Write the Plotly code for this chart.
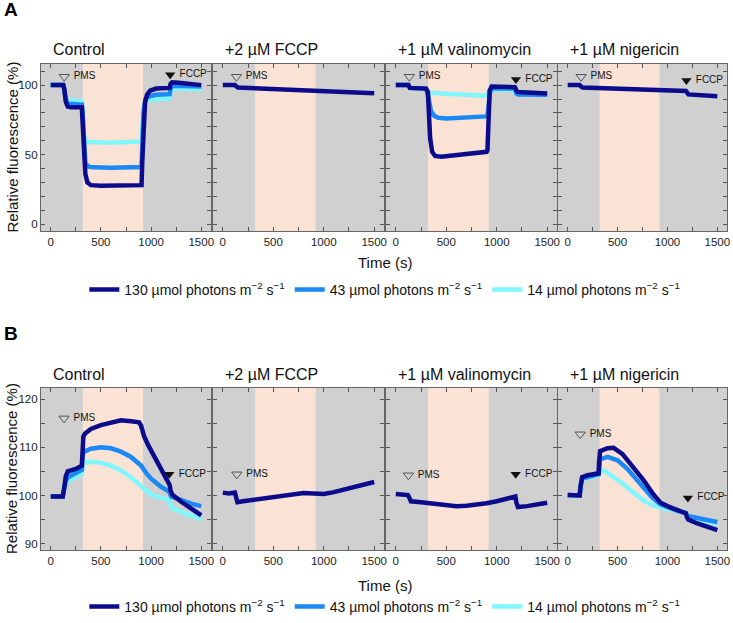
import plotly.graph_objects as go

# ---------------- DATA ----------------
series_names = ["130 µmol photons m<sup>−2</sup> s<sup>−1</sup>",
                "43 µmol photons m<sup>−2</sup> s<sup>−1</sup>",
                "14 µmol photons m<sup>−2</sup> s<sup>−1</sup>"]
panel_titles = ["Control", "+2 µM FCCP", "+1 µM valinomycin", "+1 µM nigericin"]
light_on, light_off = 320, 920

# Panel A -- Control
A_ctrl_130_t = [0, 125, 135, 150, 170, 200, 310, 318, 330, 345, 365, 400, 500, 700, 905, 912, 925, 940, 960, 990, 1050, 1185, 1195, 1210, 1300, 1500]
A_ctrl_130_v = [100, 100, 97, 88, 84.5, 84, 84, 75, 50, 36, 30, 28, 27.5, 27.5, 28, 45, 75, 88, 93, 96, 97.5, 98, 101, 102, 101.5, 100]
A_ctrl_43_t = [0, 125, 135, 150, 170, 310, 318, 330, 345, 370, 420, 600, 905, 912, 925, 945, 980, 1050, 1185, 1195, 1210, 1500]
A_ctrl_43_v = [100, 100, 97, 90, 86.5, 86, 80, 55, 44, 41.5, 40.8, 40.5, 41, 55, 80, 90, 92, 93, 93.5, 98, 99.5, 99]
A_ctrl_14_t = [0, 125, 135, 150, 170, 310, 318, 330, 345, 380, 600, 905, 912, 925, 945, 980, 1185, 1195, 1210, 1500]
A_ctrl_14_v = [100, 100, 97, 91, 89, 88.5, 80, 64, 60, 59, 58.5, 59.5, 70, 84, 88, 89.5, 90.5, 96, 97.5, 97]
# Panel A -- FCCP
A_fccp_130_t = [0, 120, 135, 150, 1500]
A_fccp_130_v = [100, 100, 99, 98.3, 94.2]
# Panel A -- valinomycin
A_val_130_t = [0, 125, 140, 300, 318, 328, 340, 360, 390, 450, 600, 900, 908, 918, 930, 950, 1000, 1180, 1195, 1210, 1500]
A_val_130_v = [100, 100, 98, 97.5, 95, 80, 62, 52, 49, 48.5, 49.5, 52, 53, 80, 96, 99, 99, 98.5, 96, 95, 94]
A_val_43_t = [0, 125, 140, 300, 318, 330, 350, 380, 420, 500, 700, 900, 908, 918, 935, 960, 1180, 1195, 1210, 1500]
A_val_43_v = [100, 100, 98, 97.5, 93, 87, 81, 78, 76.5, 76, 76.5, 77.5, 78, 88, 96, 97.5, 97.5, 94, 93.3, 93]
A_val_14_t = [0, 125, 140, 300, 320, 335, 500, 700, 900, 912, 930, 960, 1180, 1195, 1210, 1500]
A_val_14_v = [100, 100, 98, 97.5, 95.5, 94.5, 93.8, 93, 92.3, 94, 96.5, 97, 96.5, 94, 93.5, 93.3]
# Panel A -- nigericin
A_nig_130_t = [0, 120, 135, 150, 1185, 1195, 1210, 1500]
A_nig_130_v = [100, 100, 99, 98.2, 95.8, 94, 93.3, 92]

# Panel B -- Control
B_ctrl_130_t = [0, 120, 130, 150, 170, 250, 310, 315, 325, 340, 400, 500, 600, 700, 800, 880, 900, 930, 970, 1000, 1050, 1100, 1150, 1185, 1195, 1210, 1300, 1400, 1500]
B_ctrl_130_v = [99.8, 99.8, 101, 104, 105, 105.5, 106.2, 110, 112.2, 112.8, 113.8, 114.6, 115.2, 115.6, 115.4, 115.2, 114.5, 112.3, 110.5, 109.4, 107.3, 105.3, 103.6, 102.2, 101, 100.2, 98.7, 97.3, 95.9]
B_ctrl_43_t = [0, 120, 130, 150, 170, 310, 315, 325, 400, 500, 600, 700, 800, 900, 950, 1000, 1100, 1180, 1200, 1300, 1400, 1500]
B_ctrl_43_v = [99.8, 99.8, 101, 103, 103.8, 105.3, 107.5, 109, 109.7, 110, 109.8, 109.1, 108, 106.2, 104.7, 103.5, 101.8, 100.8, 99.8, 99, 98.3, 97.8]
B_ctrl_14_t = [0, 120, 130, 150, 170, 310, 315, 325, 400, 500, 600, 700, 800, 900, 1000, 1100, 1185, 1200, 1300, 1400, 1500]
B_ctrl_14_v = [99.8, 99.8, 101, 102.5, 103, 104.5, 106, 106.8, 107, 106.8, 106.2, 105.2, 103.8, 102, 100.2, 99.5, 99, 97.5, 96.6, 95.8, 95.2]
# Panel B -- FCCP
B_fccp_130_t = [0, 60, 120, 130, 145, 200, 300, 400, 500, 600, 700, 800, 900, 1000, 1100, 1200, 1300, 1400, 1500]
B_fccp_130_v = [100.6, 100.4, 100.6, 99.5, 98.6, 98.8, 99.1, 99.3, 99.7, 100, 100.3, 100.5, 100.4, 100.3, 100.7, 101.2, 101.7, 102.2, 102.8]
# Panel B -- valinomycin
B_val_130_t = [0, 120, 135, 150, 250, 400, 500, 600, 700, 800, 900, 1000, 1100, 1185, 1195, 1210, 1300, 1400, 1500]
B_val_130_v = [100.3, 100.1, 99.5, 98.8, 98.6, 98.2, 97.9, 97.8, 97.9, 98.1, 98.4, 98.8, 99.3, 99.8, 98.5, 97.6, 97.8, 98.1, 98.5]
# Panel B -- nigericin
B_nig_130_t = [0, 120, 130, 145, 200, 310, 315, 325, 400, 460, 550, 600, 700, 760, 850, 930, 1000, 1100, 1185, 1195, 1210, 1300, 1400, 1500]
B_nig_130_v = [100.1, 100, 102, 103.8, 104.2, 104.6, 107, 109.2, 109.8, 109.9, 108.6, 107.3, 104.8, 103.2, 100.5, 98.5, 97.8, 96.9, 96.3, 95.5, 95, 94.2, 93.5, 92.8]
B_nig_43_t = [0, 120, 130, 145, 310, 315, 325, 400, 500, 600, 700, 760, 850, 930, 1000, 1100, 1185, 1195, 1210, 1300, 1500]
B_nig_43_v = [100.1, 100, 102, 103.5, 104.4, 106.5, 107.5, 108, 107.3, 105.5, 103.2, 101.5, 99.5, 98.2, 97.6, 96.8, 96.4, 95.8, 95.7, 95.3, 94.5]
B_nig_14_t = [0, 120, 130, 145, 310, 315, 325, 380, 450, 550, 650, 760, 850, 930, 1000, 1100, 1185, 1195, 1210, 1500]
B_nig_14_v = [100, 100, 101.8, 103.3, 104.2, 105, 105.3, 105, 104, 102.5, 100.8, 99, 98, 97.5, 97.2, 96.8, 96.4, 95.6, 95.3, 94.2]

# event labels: (panel index, label, time, value, filled)
events = [
    (0, "PMS", 135, 106, False), (0, "FCCP", 1190, 107.5, True),
    (1, "PMS", 135, 106, False),
    (2, "PMS", 135, 106, False), (2, "FCCP", 1190, 104, True),
    (3, "PMS", 135, 106, False), (3, "FCCP", 1190, 103.3, True),
    (4, "PMS", 133, 116, False), (4, "FCCP", 1181, 104.4, True),
    (5, "PMS", 139, 104.4, False),
    (6, "PMS", 125, 104.2, False), (6, "FCCP", 1188, 104.4, True),
    (7, "PMS", 126, 112.7, False), (7, "FCCP", 1205, 99.5, True),
]

panels = [
    [(A_ctrl_14_t, A_ctrl_14_v, 2), (A_ctrl_43_t, A_ctrl_43_v, 1), (A_ctrl_130_t, A_ctrl_130_v, 0)],
    [(A_fccp_130_t, A_fccp_130_v, 0)],
    [(A_val_14_t, A_val_14_v, 2), (A_val_43_t, A_val_43_v, 1), (A_val_130_t, A_val_130_v, 0)],
    [(A_nig_130_t, A_nig_130_v, 0)],
    [(B_ctrl_14_t, B_ctrl_14_v, 2), (B_ctrl_43_t, B_ctrl_43_v, 1), (B_ctrl_130_t, B_ctrl_130_v, 0)],
    [(B_fccp_130_t, B_fccp_130_v, 0)],
    [(B_val_130_t, B_val_130_v, 0)],
    [(B_nig_14_t, B_nig_14_v, 2), (B_nig_43_t, B_nig_43_v, 1), (B_nig_130_t, B_nig_130_v, 0)],
]

# ---------------- STYLE ----------------
W, H = 733, 623
colors = ["#0b0b8c", "#1b88f5", "#80f6ff"]
FONT = "Liberation Sans, Arial, sans-serif"
col_px = [(41, 211), (213, 384), (386, 557), (558, 727)]
row_px = [(64, 231), (388, 550)]
yranges = [[-5, 115.2], [88.7, 122.3]]
ytick_main = [[0, 50, 100], [90, 100, 110, 120]]
ytick_minor = [10, 5]

fig = go.Figure()
layout = dict(width=W, height=H, margin=dict(l=0, r=0, t=0, b=0, autoexpand=False),
              paper_bgcolor="white", plot_bgcolor="#d0d0d0",
              font=dict(family=FONT, color="#111"), showlegend=True)
shapes, annotations = [], []

for i in range(8):
    r, c = divmod(i, 4)
    xn = "x" if i == 0 else f"x{i+1}"
    yn = "y" if i == 0 else f"y{i+1}"
    xk = "xaxis" if i == 0 else f"xaxis{i+1}"
    yk = "yaxis" if i == 0 else f"yaxis{i+1}"
    x0, x1 = col_px[c]
    yt, yb = row_px[r]
    layout[xk] = dict(domain=[x0 / W, x1 / W], range=[-97, 1597], anchor=yn,
                      tickvals=[0, 500, 1000, 1500], ticktext=["0", "500", "1000", "1500"],
                      ticks="inside", ticklen=4, tickcolor="#555", mirror="allticks",
                      showline=True, linecolor="#666", linewidth=1.2, showgrid=False, zeroline=False,
                      minor=dict(dtick=250, tick0=0, ticks="inside", ticklen=4, tickcolor="#555"),
                      tickfont=dict(size=11.5, family=FONT, color="#222"), fixedrange=True)
    layout[yk] = dict(domain=[1 - yb / H, 1 - yt / H], range=yranges[r], anchor=xn,
                      tickvals=ytick_main[r], showticklabels=(c == 0),
                      ticks="inside", ticklen=4, tickcolor="#555", mirror="allticks",
                      showline=True, linecolor="#666", linewidth=1.2, showgrid=False, zeroline=False,
                      minor=dict(dtick=ytick_minor[r], tick0=0, ticks="inside", ticklen=4, tickcolor="#555"),
                      tickfont=dict(size=11.5, family=FONT, color="#222"), fixedrange=True)
    shapes.append(dict(type="rect", xref=xn, yref=f"{yn} domain", x0=light_on, x1=light_off,
                       y0=0, y1=1, fillcolor="#fae3d5", line=dict(width=0), layer="below"))
    annotations.append(dict(text=panel_titles[c], xref="paper", yref="paper",
                            x=(x0 + 10) / W, y=1 - (yt - 14) / H, xanchor="left", yanchor="middle",
                            showarrow=False, font=dict(size=16, family=FONT, color="#111")))
    for (t, v, k) in panels[i]:
        fig.add_trace(go.Scatter(x=t, y=v, mode="lines", xaxis=xn, yaxis=yn,
                                 line=dict(color=colors[k], width=4.5),
                                 name=series_names[k], legendrank=k,
                                 legend="legend" if r == 0 else "legend2",
                                 showlegend=(c == 0), hoverinfo="skip"))

for (i, label, t, v, filled) in events:
    xn = "x" if i == 0 else f"x{i+1}"
    yn = "y" if i == 0 else f"y{i+1}"
    fig.add_trace(go.Scatter(x=[t], y=[v], mode="markers+text", xaxis=xn, yaxis=yn,
                             marker=dict(symbol="triangle-down" if filled else "triangle-down-open",
                                         size=9, color="#111" if filled else "#555",
                                         line=dict(width=1 if not filled else 0, color="#555")),
                             text=[" " + label], textposition="middle right", cliponaxis=False,
                             textfont=dict(size=10, family=FONT, color="#111"),
                             showlegend=False, hoverinfo="skip"))

# panel letters, axis titles
for (lbl, ypx) in [("A", 10), ("B", 333)]:
    annotations.append(dict(text=f"<b>{lbl}</b>", xref="paper", yref="paper", x=2 / W, y=1 - ypx / H,
                            xanchor="left", yanchor="middle", showarrow=False,
                            font=dict(size=19, family=FONT, color="#000")))
for (ymid, ytime) in [((64 + 231) / 2, 262), ((388 + 550) / 2, 585)]:
    annotations.append(dict(text="Relative fluorescence (%)", xref="paper", yref="paper",
                            x=12 / W, y=1 - ymid / H, textangle=-90, showarrow=False,
                            xanchor="center", yanchor="middle",
                            font=dict(size=15, family=FONT, color="#111")))
    annotations.append(dict(text="Time (s)", xref="paper", yref="paper",
                            x=385 / W, y=1 - ytime / H, showarrow=False,
                            xanchor="center", yanchor="middle",
                            font=dict(size=15, family=FONT, color="#111")))

leg = dict(orientation="h", xanchor="center", x=0.525, yanchor="middle",
           font=dict(size=14, family=FONT, color="#111"), bgcolor="rgba(0,0,0,0)",
           itemwidth=30, traceorder="normal")
layout["legend"] = dict(leg, y=1 - 290 / H)
layout["legend2"] = dict(leg, y=1 - 607 / H)
layout["shapes"] = shapes
layout["annotations"] = annotations
fig.update_layout(**layout)
fig.write_html("out.html", config={"displayModeBar": False},
               post_script="document.body.style.margin='0px';")
